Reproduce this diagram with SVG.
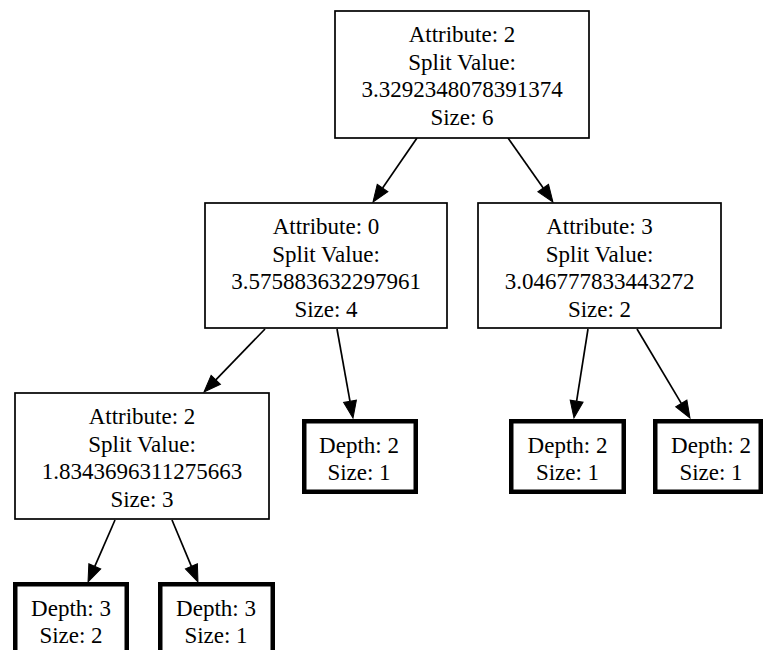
<svg xmlns="http://www.w3.org/2000/svg" width="763" height="650" viewBox="0 0 763 650">
<style>
  .box { fill: #ffffff; stroke: #000000; stroke-width: 1.7; }
  .leaf { fill: #ffffff; stroke: #000000; stroke-width: 4.5; }
  text { font-family: "Liberation Serif", "Times New Roman", serif; font-size: 23px; fill: #000000; text-anchor: middle; }
  .edge { fill: none; stroke: #000000; stroke-width: 1.7; marker-end: url(#arrow); }
</style>
<defs>
  <marker id="arrow" markerUnits="userSpaceOnUse" viewBox="0 -7 18 14" refX="0" refY="0" markerWidth="18" markerHeight="14" orient="auto" overflow="visible">
    <path d="M0,-6.5 L17,0 L0,6.5 Z" fill="#000000" stroke="#000000" stroke-width="1"/>
  </marker>
</defs>
<rect x="0" y="0" width="763" height="650" fill="#ffffff"/>

<g id="edges">
  <path class="edge" d="M417,138 L382.6,188.0"/>
  <path class="edge" d="M508,138 L543.2,188.1"/>
  <path class="edge" d="M265,329 L215.8,379.8"/>
  <path class="edge" d="M337,329 L350.0,401.3"/>
  <path class="edge" d="M588,329 L576.6,401.2"/>
  <path class="edge" d="M637,329 L681.3,403.4"/>
  <path class="edge" d="M115,520 L94.8,566.4"/>
  <path class="edge" d="M172,520 L191.4,566.3"/>
</g>

<g id="root">
  <rect class="box" x="335" y="11" width="254" height="127"/>
  <text x="462" y="42">Attribute: 2</text>
  <text x="462" y="69.5">Split Value:</text>
  <text x="462" y="97">3.3292348078391374</text>
  <text x="462" y="124.5">Size: 6</text>
</g>

<g id="attr0">
  <rect class="box" x="205" y="203" width="242" height="125"/>
  <text x="326" y="234">Attribute: 0</text>
  <text x="326" y="261.5">Split Value:</text>
  <text x="326" y="289">3.575883632297961</text>
  <text x="326" y="316.5">Size: 4</text>
</g>

<g id="attr3">
  <rect class="box" x="478" y="203" width="243" height="125"/>
  <text x="599.5" y="234">Attribute: 3</text>
  <text x="599.5" y="261.5">Split Value:</text>
  <text x="599.5" y="289">3.046777833443272</text>
  <text x="599.5" y="316.5">Size: 2</text>
</g>

<g id="attr2">
  <rect class="box" x="15" y="393" width="254" height="126"/>
  <text x="142" y="424">Attribute: 2</text>
  <text x="142" y="451.5">Split Value:</text>
  <text x="142" y="479">1.8343696311275663</text>
  <text x="142" y="506.5">Size: 3</text>
</g>

<g id="leaf_d2_a">
  <rect class="leaf" x="304.25" y="421.25" width="111.5" height="70.5"/>
  <text x="359" y="453">Depth: 2</text>
  <text x="359" y="480">Size: 1</text>
</g>

<g id="leaf_d2_b">
  <rect class="leaf" x="511.25" y="421.25" width="112.5" height="70.5"/>
  <text x="567.5" y="453">Depth: 2</text>
  <text x="567.5" y="480">Size: 1</text>
</g>

<g id="leaf_d2_c">
  <rect class="leaf" x="655.25" y="421.25" width="105.5" height="70.5"/>
  <text x="711" y="453">Depth: 2</text>
  <text x="711" y="480">Size: 1</text>
</g>

<g id="leaf_d3_a">
  <rect class="leaf" x="15.25" y="584.25" width="111.5" height="70.5"/>
  <text x="71" y="616">Depth: 3</text>
  <text x="71" y="643">Size: 2</text>
</g>

<g id="leaf_d3_b">
  <rect class="leaf" x="160.25" y="584.25" width="112.5" height="70.5"/>
  <text x="216" y="616">Depth: 3</text>
  <text x="216" y="643">Size: 1</text>
</g>
</svg>
